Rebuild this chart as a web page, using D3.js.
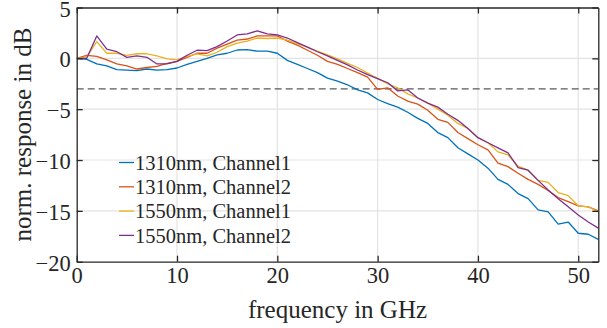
<!DOCTYPE html>
<html>
<head>
<meta charset="utf-8">
<script src="https://cdn.jsdelivr.net/npm/d3@7"></script>
<style>
  body { margin: 0; background: #fff; }
  text { font-family: "Liberation Serif", "Times New Roman", serif; fill: #262626; }
</style>
</head>
<body>
<div id="chart"></div>
<script>
// Data (dB values at 1 GHz steps, 0..52 GHz)
const freq = d3.range(0, 53);
const ch1310_1 = [0, -0.1, -0.55, -0.75, -1.1, -1.15, -1.2, -1.05, -1.15, -1.1, -0.95, -0.6, -0.3, 0, 0.35, 0.5, 0.82, 0.85, 0.7, 0.7, 0.5, -0.2, -0.6, -1.0, -1.4, -1.95, -2.25, -2.6, -3.1, -3.4, -4.05, -4.45, -4.8, -5.3, -5.9, -6.4, -7.3, -7.8, -8.8, -9.4, -10.0, -10.8, -11.9, -12.4, -13.3, -13.8, -14.9, -15.1, -16.3, -16.1, -17.2, -17.3, -17.8];
const ch1310_2 = [0, 0.3, 0.2, -0.15, -0.55, -0.75, -1.05, -0.9, -0.8, -0.5, -0.3, 0.1, 0.5, 0.5, 1.0, 1.4, 1.8, 1.9, 2.2, 2.2, 2.2, 1.7, 1.3, 0.8, 0.3, -0.3, -0.6, -1.0, -1.4, -1.85, -3.05, -2.9, -3.7, -4.2, -4.5, -5.1, -6.0, -6.3, -7.3, -7.9, -8.5, -9.0, -10.3, -10.65, -11.3, -11.9, -12.4, -13.0, -13.7, -14.1, -14.5, -14.6, -15.0];
const ch1550_1 = [0, 0.15, 1.65, 0.5, 0.5, 0.3, 0.45, 0.45, 0.25, -0.05, -0.15, 0.2, 0.45, 0.25, 0.6, 1.15, 1.5, 1.7, 2.0, 1.95, 2.0, 1.8, 1.45, 1.1, 0.7, 0.35, -0.05, -0.5, -0.9, -1.45, -2.0, -2.5, -2.9, -3.5, -3.9, -4.4, -5.0, -5.6, -6.4, -6.9, -7.8, -8.3, -9.2, -9.5, -10.6, -11.0, -12.0, -12.2, -13.2, -13.5, -14.5, -14.6, -15.1];
const ch1550_2 = [0, 0, 2.2, 0.9, 0.65, 0.1, 0.25, 0.1, -0.55, -0.55, -0.3, 0.3, 0.8, 0.75, 1.15, 1.7, 2.3, 2.4, 2.7, 2.4, 2.3, 2.0, 1.55, 1.1, 0.65, 0.25, -0.2, -0.65, -1.15, -1.6, -2.0, -2.4, -3.2, -3.1, -3.9, -4.4, -4.8, -5.5, -6.1, -6.9, -7.8, -8.3, -8.8, -9.3, -10.75, -11.0, -12.0, -12.95, -13.8, -14.6, -15.4, -16.1, -16.7];
const seriesNames = ['1310nm, Channel1', '1310nm, Channel2', '1550nm, Channel1', '1550nm, Channel2'];
const seriesValues = [ch1310_1, ch1310_2, ch1550_1, ch1550_2];
const colors = ['#0072BD', '#D95319', '#EDB120', '#7E2F8E'];
const xTicks = [0, 10, 20, 30, 40, 50];
const yTicks = [5, 0, -5, -10, -15, -20];
const cutoff = -3;

const width = 607;
const height = 328;
const margin = { left: 76.7, right: 8.7, top: 7.5, bottom: 66.3 };
const iw = width - margin.left - margin.right;
const ih = height - margin.top - margin.bottom;

const svg = d3.select('#chart')
  .append('svg')
  .attr('width', width)
  .attr('height', height);

const g = svg.append('g')
  .attr('transform', `translate(${margin.left},${margin.top})`);

const x = d3.scaleLinear().domain([0, 52]).range([0, iw]);
const y = d3.scaleLinear().domain([-20, 5]).range([ih, 0]);

// Grid
g.append('g')
  .selectAll('line')
  .data(xTicks.filter(d => d > 0))
  .enter()
  .append('line')
  .attr('x1', d => x(d)).attr('x2', d => x(d))
  .attr('y1', 0).attr('y2', ih)
  .attr('stroke', '#e3e3e3').attr('stroke-width', 1.2);

g.append('g')
  .selectAll('line')
  .data(yTicks.filter(d => d > -20 && d < 5))
  .enter()
  .append('line')
  .attr('x1', 0).attr('x2', iw)
  .attr('y1', d => y(d)).attr('y2', d => y(d))
  .attr('stroke', '#e3e3e3').attr('stroke-width', 1.2);

// -3 dB line
g.append('line')
  .attr('x1', 0).attr('x2', iw)
  .attr('y1', y(cutoff)).attr('y2', y(cutoff))
  .attr('stroke', '#5a5a5a')
  .attr('stroke-width', 1.3)
  .attr('stroke-dasharray', '7,4');

// Clip
svg.append('defs').append('clipPath').attr('id', 'clip')
  .append('rect').attr('width', iw).attr('height', ih);

const line = d3.line()
  .x((d, i) => x(freq[i]))
  .y(d => y(d));

g.append('g').attr('clip-path', 'url(#clip)')
  .selectAll('path')
  .data(seriesValues)
  .enter()
  .append('path')
  .attr('d', d => line(d))
  .attr('fill', 'none')
  .attr('stroke', (d, i) => colors[i])
  .attr('stroke-width', 1.3)
  .attr('stroke-linejoin', 'round');

// Axes (MATLAB style: inward ticks on all sides, box)
const tickLen = -6;
const xAxis = g.append('g')
  .attr('transform', `translate(0,${ih})`)
  .call(d3.axisBottom(x).tickValues(xTicks).tickSizeInner(tickLen).tickSizeOuter(0).tickPadding(12));
const xTop = g.append('g')
  .call(d3.axisTop(x).tickValues(xTicks).tickSizeInner(tickLen).tickSizeOuter(0).tickFormat(''));
const yAxis = g.append('g')
  .call(d3.axisLeft(y).tickValues(yTicks).tickSizeInner(tickLen).tickSizeOuter(0).tickPadding(12));
const yRight = g.append('g')
  .attr('transform', `translate(${iw},0)`)
  .call(d3.axisRight(y).tickValues(yTicks).tickSizeInner(tickLen).tickSizeOuter(0).tickFormat(''));

[xAxis, xTop, yAxis, yRight].forEach(a => {
  a.select('.domain').attr('stroke', '#262626').attr('stroke-width', 1.3);
  a.selectAll('.tick line').attr('stroke', '#262626').attr('stroke-width', 1.3);
  a.selectAll('.tick text')
    .style('font-family', '"Liberation Serif", serif')
    .style('font-size', '22.5px')
    .attr('fill', '#262626');
});
yAxis.selectAll('.tick text').attr('x', -6).attr('dy', '0.38em');
xAxis.selectAll('.tick text').attr('dy', '0.71em').attr('y', 5);

// Axis labels
svg.append('text')
  .attr('x', margin.left + iw / 2)
  .attr('y', 318)
  .attr('text-anchor', 'middle')
  .style('font-size', '25px')
  .text('frequency in GHz');

svg.append('text')
  .attr('transform', `translate(31,${margin.top + ih / 2}) rotate(-90)`)
  .attr('text-anchor', 'middle')
  .style('font-size', '25px')
  .text('norm. response in dB');

// Legend
const legend = svg.append('g');
seriesNames.forEach((name, i) => {
  const cy = 162.5 + i * 24.3;
  legend.append('line')
    .attr('x1', 119).attr('x2', 134)
    .attr('y1', cy).attr('y2', cy)
    .attr('stroke', colors[i]).attr('stroke-width', 1.3);
  legend.append('text')
    .attr('x', 135)
    .attr('y', cy)
    .attr('dy', '0.35em')
    .style('font-size', '20.5px')
    .text(name);
});
</script>
</body>
</html>
